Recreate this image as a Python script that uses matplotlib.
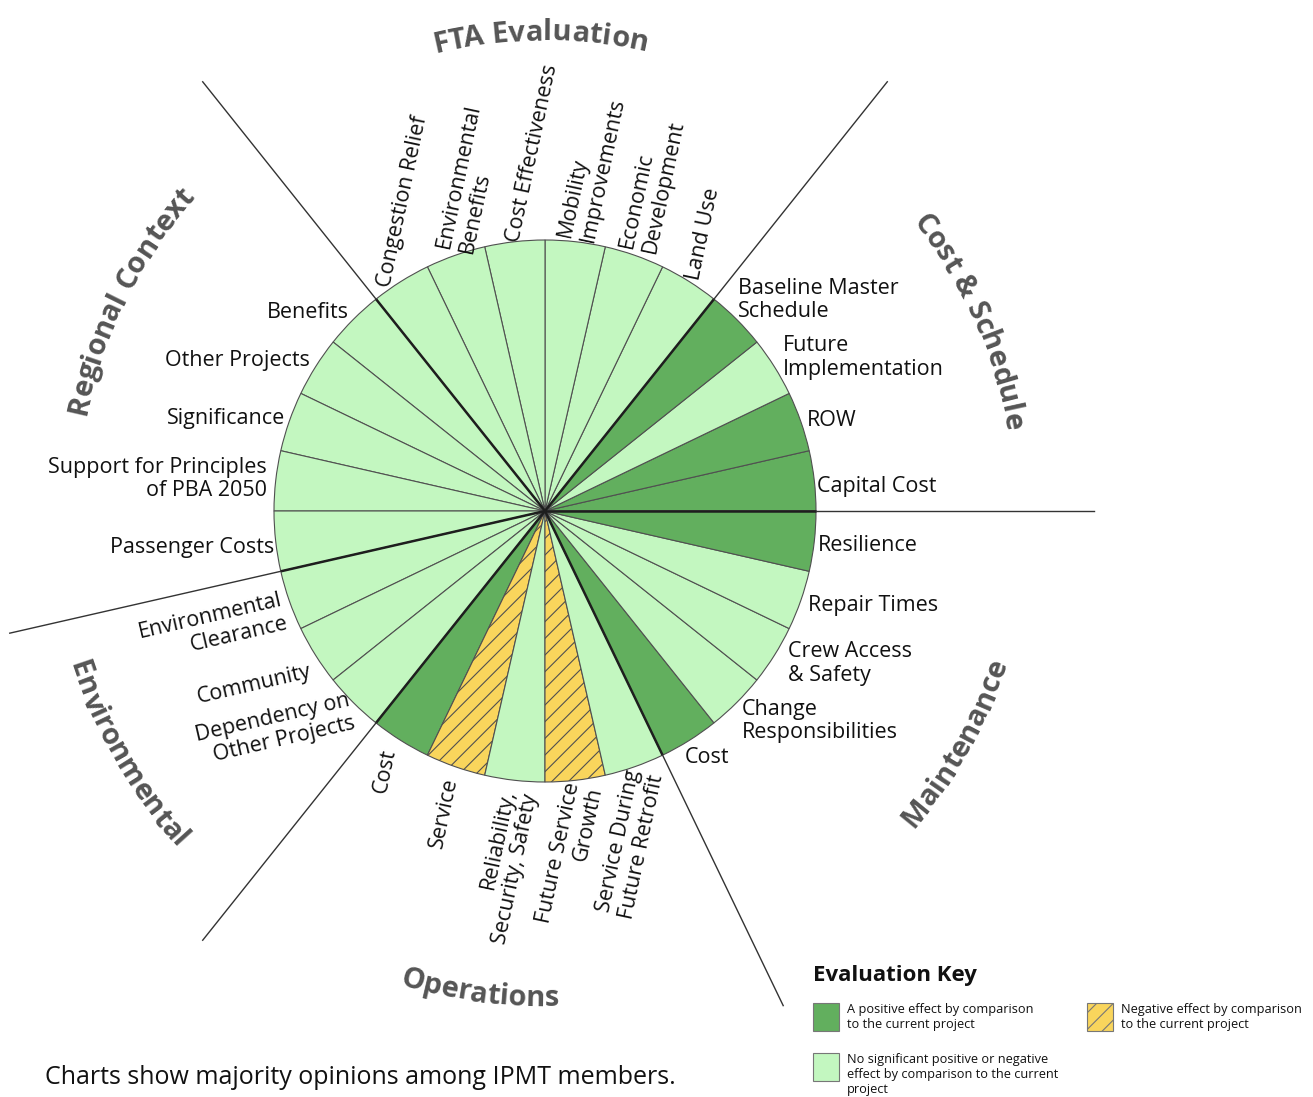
import numpy as np
import matplotlib.pyplot as plt
from matplotlib.patches import Rectangle
from matplotlib.font_manager import FontProperties
from matplotlib.textpath import TextToPath

W, H = 1313, 1097
plt.rcParams['font.family'] = ['Open Sans', 'DejaVu Sans']
plt.rcParams['hatch.linewidth'] = 0.8

# criteria, counter-clockwise from 3 o'clock
criteria = ['Capital Cost', 'ROW', 'Future\nImplementation', 'Baseline Master\nSchedule',
            'Land Use', 'Economic\nDevelopment', 'Mobility\nImprovements', 'Cost Effectiveness',
            'Environmental\nBenefits', 'Congestion Relief',
            'Benefits', 'Other Projects', 'Significance', 'Support for Principles\nof PBA 2050',
            'Passenger Costs',
            'Environmental\nClearance', 'Community', 'Dependency on\nOther Projects',
            'Cost', 'Service', 'Reliability,\nSecurity, Safety', 'Future Service\nGrowth',
            'Service During\nFuture Retrofit',
            'Cost', 'Change\nResponsibilities', 'Crew Access\n& Safety', 'Repair Times', 'Resilience']

ratings = ['pos', 'pos', 'none', 'pos',
           'none', 'none', 'none', 'none', 'none', 'none',
           'none', 'none', 'none', 'none', 'none',
           'none', 'none', 'none',
           'pos', 'neg', 'none', 'neg', 'none',
           'pos', 'none', 'none', 'none', 'pos']

groups = ['Cost & Schedule', 'FTA Evaluation', 'Regional Context',
          'Environmental', 'Operations', 'Maintenance']
group_sizes = [4, 6, 5, 3, 5, 5]

key_labels = {'pos': 'A positive effect by comparison\nto the current project',
              'none': 'No significant positive or negative\neffect by comparison to the current\nproject',
              'neg': 'Negative effect by comparison\nto the current project'}

# styling
fill = {'pos': '#62AF5E', 'none': '#C3F7C0', 'neg': '#F9D55C'}
hatches = {'pos': '', 'none': '', 'neg': '//'}
title_color = '#555555'

cx, cy = 545, H - 511
R = 271
R_LINE = 549

fig = plt.figure(figsize=(W / 100, H / 100), dpi=100)
ax = fig.add_axes([0, 0, 1, 1])

n = len(criteria)
ax.pie(np.ones(n), colors=[fill[r] for r in ratings], hatch=[hatches[r] for r in ratings],
       startangle=0, counterclock=True, radius=R, center=(cx, cy),
       wedgeprops=dict(edgecolor='#505050', linewidth=0.8))
ax.set_xlim(0, W)
ax.set_ylim(0, H)
ax.set_aspect('equal')
ax.axis('off')

step = 360 / n
mids = step * (np.arange(n) + 0.5)


def pt(r, ang):
    a = np.radians(ang)
    return cx + r * np.cos(a), cy + r * np.sin(a)


# group dividers
edges = np.cumsum([0] + group_sizes[:-1])
for e in edges:
    ang = e * step
    x0, y0 = pt(0, ang)
    x1, y1 = pt(R, ang)
    x2, y2 = pt(R_LINE, ang)
    ax.plot([x0, x1], [y0, y1], color='#1e1e1e', lw=1.8, solid_capstyle='butt')
    ax.plot([x1, x2], [y1, y2], color='#333333', lw=1.0)

# label style per group: (gap, rotation, ha)
lab_style = {'Cost & Schedule': (6, 0, 'left'),
             'FTA Evaluation': (4, 78, 'left'),
             'Regional Context': (6, 0, 'right'),
             'Environmental': (6, 13, 'right'),
             'Operations': (12, 78, 'right'),
             'Maintenance': (6, 0, 'left')}
nudge = [(-3, 7), (0, 1), (3, -6), (-3, -15),
         (2, 2), (2, -1), (0, 2), (-1, 4), (1, -1), (-14, 9),
         (0, -3), (-1, -3), (2, -1), (-3, -1), (5, 5),
         (1, 9), (0, 13), (3, 5),
         (-5, -1), (0, 0), (7, 0), (8, -7), (7, -6),
         (-8, 12), (1, 14), (8, 5), (2, 3), (-2, 3)]

group_of = np.repeat(np.arange(len(groups)), group_sizes)
for i, lab in enumerate(criteria):
    gap, rot, ha = lab_style[groups[group_of[i]]]
    x, y = pt(R + gap, mids[i])
    dx, dy = nudge[i]
    ax.text(x + dx, y - dy, lab, rotation=rot, ha=ha, va='center', rotation_mode='anchor',
            multialignment=ha, fontsize=15.5, color='#111111', linespacing=1.17)

# curved group titles: (center angle, radius, outward tops)
title_pos = {'FTA Evaluation': (90.5, 481, True),
             'Cost & Schedule': (24, 478, True),
             'Maintenance': (-29.5, 476, False),
             'Operations': (262.3, 485, False),
             'Environmental': (210.2, 489, False),
             'Regional Context': (153.2, 480, True)}
TSIZE = 21
tfont = FontProperties(family='Open Sans', weight='bold', size=TSIZE)
t2p = TextToPath()
px = 100 / 72


def width(s):
    return t2p.get_text_width_height_descent(s, tfont, ismath=False)[0] * px


cap = TSIZE * px * 0.714
for name in groups:
    ang_c, rc, outward = title_pos[name]
    total = width(name)
    rb = rc - cap / 2 if outward else rc + cap / 2
    for i, ch in enumerate(name):
        if ch == ' ':
            continue
        s = width(name[:i + 1]) - width(ch) / 2
        off = np.degrees((total / 2 - s) / rb)
        a = ang_c + off if outward else ang_c - off
        rot = a - 90 if outward else a + 90
        x, y = pt(rb, a)
        ax.text(x, y, ch, fontproperties=tfont, color=title_color, rotation=rot,
                rotation_mode='anchor', ha='center', va='baseline')

# evaluation key
ax.text(813, H - 976, 'Evaluation Key', fontsize=16, fontweight='bold', color='#111111',
        ha='left', va='center')
key_spots = {'pos': (813, 1003), 'none': (813, 1053), 'neg': (1087, 1003)}
for k, (kx, ky) in key_spots.items():
    ax.add_patch(Rectangle((kx, H - ky - 28), 26, 28, facecolor=fill[k], hatch=hatches[k],
                           edgecolor='#777777', linewidth=0.8))
    ax.text(kx + 34, H - ky, key_labels[k], fontsize=9.2, color='#111111', ha='left',
            va='top', linespacing=1.2)

ax.text(45, H - 1078, 'Charts show majority opinions among IPMT members.', fontsize=18,
        color='#111111', ha='left', va='center')

fig.savefig('out.png', dpi=100)
